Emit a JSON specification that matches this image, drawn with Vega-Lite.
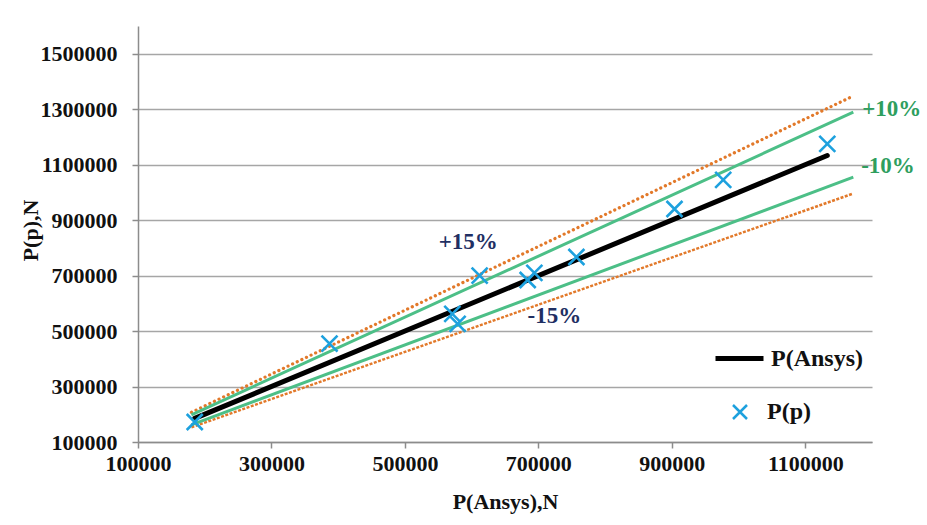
{
  "$schema": "https://vega.github.io/schema/vega-lite/v6.json",
  "width": 734,
  "height": 416,
  "autosize": "none",
  "padding": {"left": 138, "top": 26, "right": 55, "bottom": 83},
  "background": "white",
  "config": {
    "view": {"stroke": null},
    "font": "Liberation Serif"
  },
  "datasets": {
    "lines": [
      {"series": "+15%", "x": 180000, "y": 207000},
      {"series": "+15%", "x": 1172000, "y": 1347800},
      {"series": "-15%", "x": 180000, "y": 153000},
      {"series": "-15%", "x": 1172000, "y": 996200},
      {"series": "+10%", "x": 180000, "y": 198000},
      {"series": "+10%", "x": 1172000, "y": 1289200},
      {"series": "-10%", "x": 180000, "y": 162000},
      {"series": "-10%", "x": 1172000, "y": 1054800},
      {"series": "P(Ansys)", "x": 185000, "y": 185000},
      {"series": "P(Ansys)", "x": 1133000, "y": 1133000}
    ],
    "points": [
      {"pt": "P(p)", "x": 185000, "y": 172000},
      {"pt": "P(p)", "x": 387000, "y": 455000},
      {"pt": "P(p)", "x": 571000, "y": 562000},
      {"pt": "P(p)", "x": 579000, "y": 526000},
      {"pt": "P(p)", "x": 612000, "y": 700000},
      {"pt": "P(p)", "x": 684000, "y": 684000},
      {"pt": "P(p)", "x": 694000, "y": 710000},
      {"pt": "P(p)", "x": 757000, "y": 767000},
      {"pt": "P(p)", "x": 904000, "y": 940000},
      {"pt": "P(p)", "x": 977000, "y": 1045000},
      {"pt": "P(p)", "x": 1133000, "y": 1175000}
    ],
    "greenLabels": [
      {"label": "+10%", "x": 1185300, "y": 1276000},
      {"label": "-10%", "x": 1183800, "y": 1070600}
    ],
    "navyLabels": [
      {"label": "+15%", "x": 550600, "y": 796400},
      {"label": "-15%", "x": 683800, "y": 529400}
    ]
  },
  "encoding": {
    "x": {
      "field": "x",
      "type": "quantitative",
      "scale": {"domain": [100000, 1200000], "nice": false, "zero": false},
      "axis": {
        "title": "P(Ansys),N",
        "values": [100000, 300000, 500000, 700000, 900000, 1100000],
        "format": "d",
        "grid": false,
        "domainColor": "#8c8c8c",
        "domainWidth": 1.5,
        "tickColor": "#8c8c8c",
        "tickWidth": 1.5,
        "tickSize": 6,
        "labelFont": "Liberation Serif",
        "labelFontWeight": "bold",
        "labelFontSize": 22,
        "labelColor": "#111111",
        "labelPadding": 5,
        "labelFlush": false,
        "labelOverlap": false,
        "titleFont": "Liberation Serif",
        "titleFontSize": 22,
        "titleFontWeight": "bold",
        "titleColor": "#111111",
        "titleBaseline": "alphabetic",
        "titleY": 66
      }
    },
    "y": {
      "field": "y",
      "type": "quantitative",
      "scale": {"domain": [100000, 1600000], "nice": false, "zero": false},
      "axis": {
        "title": "P(p),N",
        "values": [100000, 300000, 500000, 700000, 900000, 1100000, 1300000, 1500000],
        "format": "d",
        "grid": true,
        "gridColor": "#a6a6a6",
        "gridWidth": 1.3,
        "domainColor": "#8c8c8c",
        "domainWidth": 1.5,
        "tickColor": "#8c8c8c",
        "tickWidth": 1.5,
        "tickSize": 6,
        "labelFont": "Liberation Serif",
        "labelFontWeight": "bold",
        "labelFontSize": 22,
        "labelColor": "#111111",
        "labelPadding": 15,
        "labelFlush": false,
        "labelOverlap": false,
        "titleFont": "Liberation Serif",
        "titleFontSize": 22,
        "titleFontWeight": "bold",
        "titleColor": "#111111",
        "titleX": -96,
        "titleY": 204
      }
    }
  },
  "layer": [
    {
      "data": {"name": "lines"},
      "transform": [{"filter": "datum.series === '+15%'"}],
      "mark": {"type": "line", "color": "#E2792A", "strokeWidth": 3.2, "strokeDash": [0.1, 5], "strokeCap": "round"}
    },
    {
      "data": {"name": "lines"},
      "transform": [{"filter": "datum.series === '-15%'"}],
      "mark": {"type": "line", "color": "#E2792A", "strokeWidth": 2.5, "strokeDash": [3, 1.5]}
    },
    {
      "data": {"name": "lines"},
      "transform": [{"filter": "datum.series === '+10%' || datum.series === '-10%'"}],
      "mark": {"type": "line", "color": "#4CBF87", "strokeWidth": 3},
      "encoding": {"detail": {"field": "series", "type": "nominal"}}
    },
    {
      "data": {"name": "lines"},
      "transform": [{"filter": "datum.series === 'P(Ansys)'"}],
      "mark": {"type": "line", "strokeWidth": 5, "strokeCap": "round"},
      "encoding": {
        "stroke": {
          "field": "series",
          "type": "nominal",
          "scale": {"range": ["#000000"]},
          "legend": {
            "orient": "none",
            "legendX": 575,
            "legendY": 306,
            "title": null,
            "padding": 0,
            "symbolType": "stroke",
            "symbolSize": 2304,
            "symbolStrokeWidth": 5,
            "symbolStrokeColor": "#000000",
            "labelFont": "Liberation Serif",
            "labelFontSize": 24,
            "labelFontWeight": "bold",
            "labelColor": "#111111",
            "labelOffset": 5
          }
        }
      }
    },
    {
      "data": {"name": "points"},
      "mark": {"type": "point", "filled": false, "color": "#1DA1DE", "strokeWidth": 2.6, "size": 256, "opacity": 1},
      "encoding": {
        "shape": {
          "field": "pt",
          "type": "nominal",
          "scale": {"range": ["M-1,-1L1,1M-1,1L1,-1"]},
          "legend": {
            "orient": "none",
            "legendX": 590,
            "legendY": 374,
            "title": null,
            "padding": 0,
            "symbolSize": 196,
            "symbolStrokeWidth": 2.5,
            "symbolStrokeColor": "#1DA1DE",
            "symbolFillColor": "transparent",
            "labelFont": "Liberation Serif",
            "labelFontSize": 24,
            "labelFontWeight": "bold",
            "labelColor": "#111111",
            "labelOffset": 15
          }
        }
      }
    },
    {
      "data": {"name": "greenLabels"},
      "mark": {"type": "text", "align": "left", "baseline": "alphabetic", "font": "Liberation Serif", "fontWeight": "bold", "fontSize": 23, "color": "#2E9E5E"},
      "encoding": {"text": {"field": "label", "type": "nominal"}}
    },
    {
      "data": {"name": "navyLabels"},
      "mark": {"type": "text", "align": "left", "baseline": "alphabetic", "font": "Liberation Serif", "fontWeight": "bold", "fontSize": 23, "color": "#1F2F63"},
      "encoding": {"text": {"field": "label", "type": "nominal"}}
    }
  ]
}
